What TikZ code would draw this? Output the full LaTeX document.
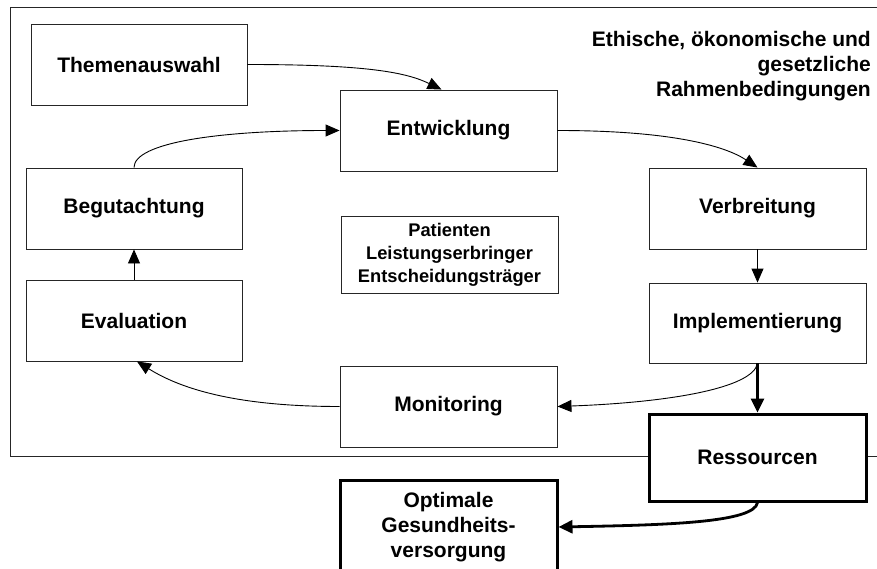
\documentclass[tikz,border=0pt]{standalone}
\usepackage{fontspec}
\setmainfont{Liberation Sans}
\usetikzlibrary{arrows.meta,calc}
\tikzset{
  box/.style={draw=black!85,fill=white,line width=0.9pt,minimum width=216pt,minimum height=81pt,inner sep=0pt,align=center,font=\fontsize{21}{25}\selectfont\bfseries},
  thickbox/.style={box,draw=black,line width=3pt},
  conn/.style={line width=0.9pt,-{Triangle[length=14pt,width=12pt]}},
  thickconn/.style={line width=2.8pt,-{Triangle[length=14pt,width=13pt]}},
}
\begin{document}
\begin{tikzpicture}[x=1pt,y=-1pt]
\useasboundingbox (0,0) rectangle (877,569);
\clip (0,0) rectangle (877,569);
\draw[line width=0.9pt,draw=black!85] (10,7) rectangle (890,456);
\node[box] (them) at (139,64.5) {Themenauswahl};
\node[box,minimum width=217pt] (entw) at (448.5,130.5) {Entwicklung};
\node[box] (begu) at (134,208.5) {Begutachtung};
\node[box] (eval) at (134,320.5) {Evaluation};
\node[box,minimum width=217pt,minimum height=77pt,font=\fontsize{18.3}{23}\selectfont\bfseries] (pat) at (449.5,254.5) {Patienten\\Leistungserbringer\\Entscheidungstr\"ager};
\node[box,minimum width=217pt] (verb) at (757.5,208.5) {Verbreitung};
\node[box,minimum width=217pt,minimum height=80pt] (impl) at (757.5,323) {Implementierung};
\node[box,minimum width=217pt] (moni) at (448.5,406.5) {Monitoring};
\node[thickbox,minimum width=217pt,minimum height=87pt] (ress) at (757.5,457.5) {Ressourcen};
\node[thickbox,minimum width=217pt,minimum height=94pt] (opt) at (448.5,527) {Optimale\\Gesundheits-\\versorgung};
\node[anchor=north east,align=right,inner sep=0pt,font=\fontsize{21}{25}\selectfont\bfseries] (rahmen) at (871,31) {Ethische, \"okonomische und\\gesetzliche\\Rahmenbedingungen};
\coordinate (entwtop) at ($(entw.north)+(-7,0)$);
\draw[conn] (them.east) .. controls +(120,0) and +(-35,-17) .. (entwtop);
\draw[conn] (entw.east) .. controls +(120,0) and +(-30,-20) .. (verb.north);
\draw[conn] (verb.south) -- (impl.north);
\draw[conn] (impl.south) .. controls +(-5,25) and +(110,-4) .. (moni.east);
\draw[thickconn] (impl.south) -- (ress.north);
\draw[thickconn] (ress.south) .. controls +(-3,20) and +(110,-2) .. (opt.east);
\coordinate (evalbot) at ($(eval.south)+(3,0)$);
\draw[conn] (moni.west) .. controls +(-110,0) and +(40,25) .. (evalbot);
\draw[conn] (eval.north) -- (begu.south);
\draw[conn] (begu.north) .. controls +(0,-25) and +(-120,0) .. (entw.west);
\end{tikzpicture}
\end{document}
